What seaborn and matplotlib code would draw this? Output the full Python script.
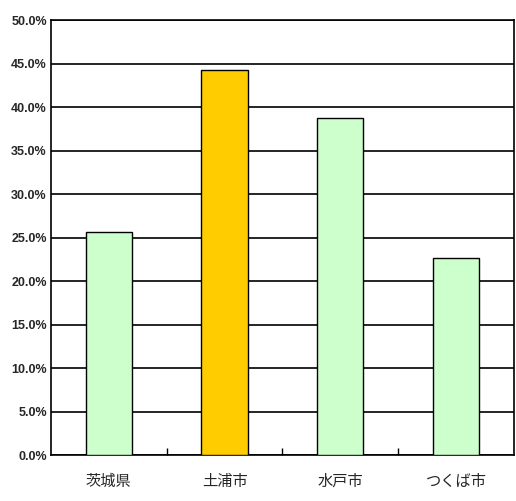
import matplotlib
matplotlib.use("Agg")
import matplotlib.pyplot as plt
from matplotlib.ticker import PercentFormatter, FixedLocator
import seaborn as sns
import pandas as pd

# data
regions = ["茨城県", "土浦市", "水戸市", "つくば市"]
rates = [25.6, 44.2, 38.7, 22.6]
bar_colors = ["#CCFFCC", "#FFCC00", "#CCFFCC", "#CCFFCC"]
y_ticks = [0, 5, 10, 15, 20, 25, 30, 35, 40, 45, 50]

sns.set_theme(style="white")
plt.rcParams["font.family"] = ["Noto Sans CJK JP", "DejaVu Sans"]

df = pd.DataFrame({"region": regions, "rate": rates})

fig = plt.figure(figsize=(5.16, 5.01), dpi=100)
ax = fig.add_axes([0.0988, 0.0918, 0.8972, 0.8682])

sns.barplot(
    data=df, x="region", y="rate", hue="region",
    palette=dict(zip(regions, bar_colors)), legend=False,
    width=0.4, edgecolor="black", linewidth=1.0, saturation=1, ax=ax,
    zorder=3,
)

ax.set_ylim(0, 50)
ax.set_xlim(-0.5, len(regions) - 0.5)
ax.set_yticks(y_ticks)
ax.yaxis.set_major_formatter(PercentFormatter(decimals=1))
ax.yaxis.grid(True, color="black", linewidth=1.2, zorder=0)
ax.set_axisbelow(True)

# category boundary ticks on the bottom axis
ax.xaxis.set_minor_locator(FixedLocator([0.5, 1.5, 2.5]))
ax.tick_params(axis="x", which="minor", direction="in", length=5,
               width=1, color="black", bottom=True)
ax.tick_params(axis="x", which="major", length=0, pad=13, labelsize=11)
ax.tick_params(axis="y", length=0, pad=3)
for lbl in ax.get_yticklabels():
    lbl.set_family(["Liberation Sans", "DejaVu Sans"])
    lbl.set_fontsize(9)
    lbl.set_fontweight("bold")

for sp in ax.spines.values():
    sp.set_visible(True)
    sp.set_color("black")
    sp.set_linewidth(1.2)

ax.set_xlabel("")
ax.set_ylabel("")

fig.savefig("out.png", dpi=100, facecolor="white")
